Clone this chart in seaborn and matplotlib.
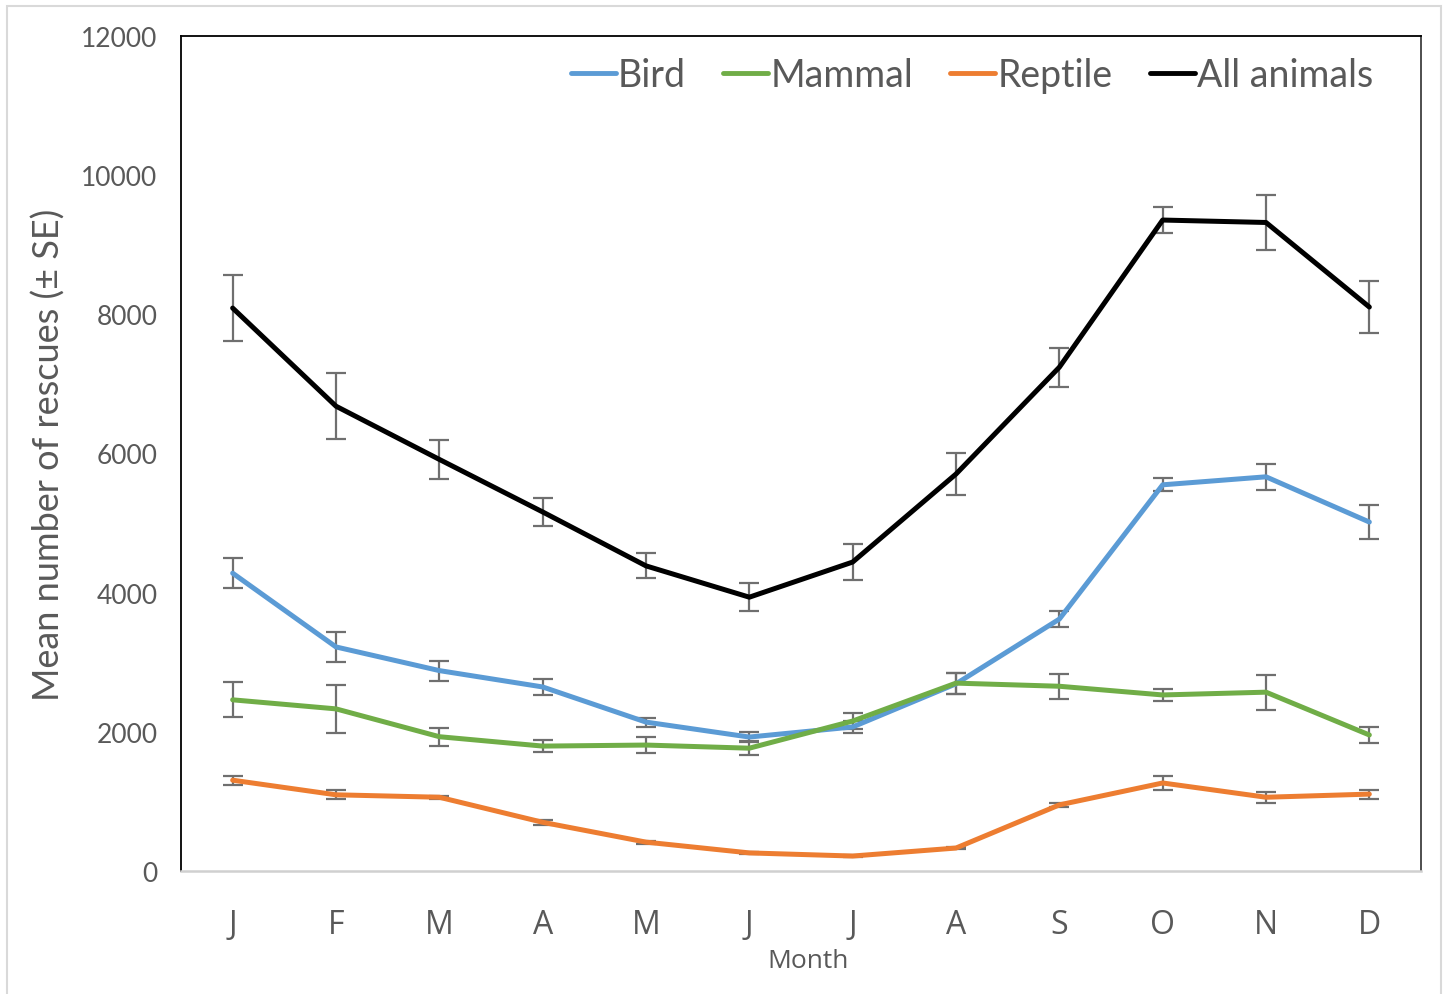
import numpy as np
import pandas as pd
import matplotlib
matplotlib.use("Agg")
import matplotlib.pyplot as plt
import seaborn as sns
from matplotlib.patches import Rectangle

months = ["J", "F", "M", "A", "M", "J", "J", "A", "S", "O", "N", "D"]

bird = [4280, 3220, 2880, 2645, 2140, 1925, 2070, 2690, 3620, 5550, 5665, 5015]
bird_se = [220, 215, 145, 110, 65, 70, 80, 150, 120, 95, 190, 240]

mammal = [2460, 2330, 1930, 1795, 1810, 1765, 2155, 2700, 2655, 2530, 2570, 1955]
mammal_se = [250, 340, 130, 85, 120, 100, 120, 150, 180, 85, 250, 115]

reptile = [1305, 1095, 1060, 700, 415, 260, 215, 330, 950, 1265, 1060, 1105]
reptile_se = [65, 65, 25, 40, 20, 15, 15, 20, 30, 100, 80, 65]

all_animals = [8090, 6680, 5915, 5160, 4385, 3935, 4440, 5705, 7240, 9355, 9320, 8105]
all_se = [470, 470, 280, 200, 180, 200, 260, 300, 280, 190, 390, 380]

series_names = ["Bird", "Mammal", "Reptile", "All animals"]
series_vals = [bird, mammal, reptile, all_animals]
series_se = [bird_se, mammal_se, reptile_se, all_se]
colors = ["#5b9bd5", "#70ad47", "#ed7d31", "#000000"]

rows = []
for name, vals, ses in zip(series_names, series_vals, series_se):
    for i, (v, s) in enumerate(zip(vals, ses)):
        rows.append({"idx": i, "value": v, "se": s, "series": name})
df = pd.DataFrame(rows)

sns.set_style("white")
plt.rcParams["font.family"] = ["Lato", "DejaVu Sans"]

fig = plt.figure(figsize=(14.47, 9.95), dpi=100)
ax = fig.add_axes([181/1447, 1-872/995, (1421-181)/1447, (872-37)/995])

txt = "#595959"

# error bars first (behind lines)
for name, vals, ses in zip(series_names, series_vals, series_se):
    ax.errorbar(np.arange(len(months)), vals, yerr=ses, fmt="none",
                ecolor="#6f6f6f", elinewidth=1.6, capsize=7, capthick=1.6, zorder=2)

sns.lineplot(data=df, x="idx", y="value", hue="series", hue_order=series_names,
             palette=colors, linewidth=3.6, ax=ax, zorder=3, legend=True)

ax.set_xlim(-0.5, 11.5)
ax.set_ylim(0, 12000)
ax.set_xticks(np.arange(len(months)))
ax.set_xticklabels(months, fontsize=23, color=txt, family=["Open Sans", "DejaVu Sans"])
ax.set_yticks(np.arange(0, 12001, 2000))
ax.set_yticklabels([str(v) for v in range(0, 12001, 2000)], fontsize=19, color=txt)
ax.tick_params(axis="both", length=0)
ax.tick_params(axis="y", pad=17)
ax.tick_params(axis="x", pad=27)

ax.set_xlabel("Month", fontsize=19, color=txt, family=["Open Sans", "DejaVu Sans"])
ax.xaxis.set_label_coords((808-181)/1240, -(949-872)/835)
ax.set_ylabel("Mean number of rescues (\u00b1 SE)", fontsize=26, color=txt)
ax.yaxis.set_label_coords(-(181-66)/1240, 0.5)

for side in ["left", "top"]:
    ax.spines[side].set_color("#000000")
    ax.spines[side].set_linewidth(1.3)
ax.spines["right"].set_color("#404040")
ax.spines["right"].set_linewidth(1.3)
ax.spines["bottom"].set_color("#d0d0d0")
ax.spines["bottom"].set_linewidth(1.8)

leg = ax.legend(loc="upper right", ncol=4, frameon=False, fontsize=27,
                handlelength=1.2, handletextpad=0.05, columnspacing=1.0,
                bbox_to_anchor=(0.978, 1.0), borderaxespad=0.15)
for t in leg.get_texts():
    t.set_color(txt)
for h in leg.legend_handles:
    h.set_linewidth(3.5)

fig.patches.append(Rectangle((7/1447, -0.01), (1441-7)/1447, 1-7/995 + 0.01,
                             transform=fig.transFigure, fill=False,
                             edgecolor="#d9d9d9", linewidth=1.5, zorder=0))

fig.savefig("out.png", dpi=100, facecolor="white")
